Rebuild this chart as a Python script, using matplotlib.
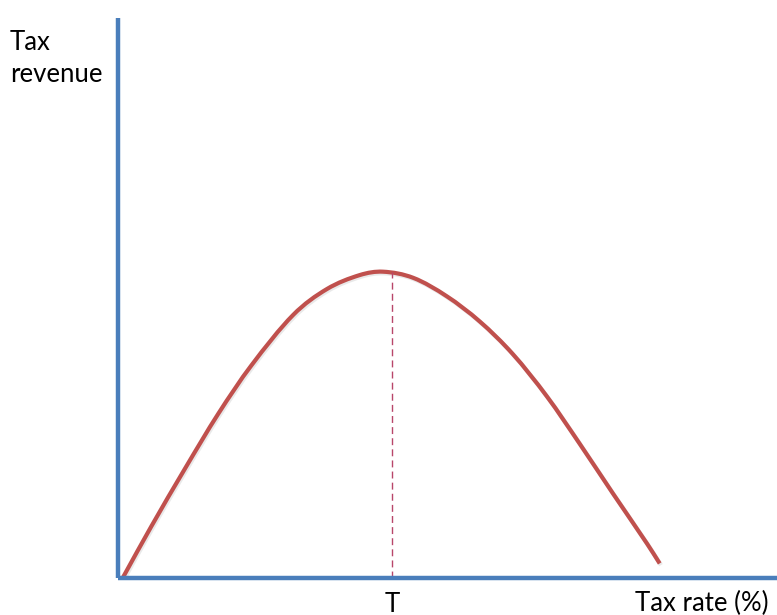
import matplotlib.pyplot as plt
from matplotlib.path import Path
from matplotlib.patches import PathPatch

# Laffer curve (x: tax rate, 0-100 axis scale; y: revenue, 0-100 axis scale)
tax_rate = [0.8, 5.0, 10.2, 15.2, 20.2, 26.6, 31.7, 36.7, 40.2, 44.8, 49.9,
            54.9, 59.9, 65.1, 70.1, 75.1, 80.3, 82.2]
revenue = [0.2, 9.1, 19.6, 29.3, 37.9, 47.0, 51.6, 54.1, 54.7, 53.6, 50.3,
           45.8, 40.0, 32.4, 23.9, 15.1, 6.1, 2.6]
t_rate = 41.6
t_revenue = 54.6


def smooth_path(xs, ys):
    # cubic Hermite in x through the read points, drawn as Bezier segments
    n = len(xs)
    slopes = []
    for i in range(n):
        a = max(i - 1, 0)
        b = min(i + 1, n - 1)
        slopes.append((ys[b] - ys[a]) / (xs[b] - xs[a]))
    verts = [(xs[0], ys[0])]
    codes = [Path.MOVETO]
    for i in range(n - 1):
        h = xs[i + 1] - xs[i]
        verts += [(xs[i] + h / 3, ys[i] + slopes[i] * h / 3),
                  (xs[i + 1] - h / 3, ys[i + 1] - slopes[i + 1] * h / 3),
                  (xs[i + 1], ys[i + 1])]
        codes += [Path.CURVE4] * 3
    return Path(verts, codes)


W, H = 777, 615
fig = plt.figure(figsize=(W / 100, H / 100), dpi=100)
ax = fig.add_axes([118 / W, (H - 578) / H, (W - 118) / W, (578 - 18) / H])
ax.set_xlim(0, 100)
ax.set_ylim(0, 100)

blue = '#4A7EBB'
red = '#C0504D'

for side in ['top', 'right']:
    ax.spines[side].set_visible(False)
for side in ['left', 'bottom']:
    ax.spines[side].set_color(blue)
    ax.spines[side].set_linewidth(3.2)
    ax.spines[side].set_capstyle('butt')
ax.set_xticks([])
ax.set_yticks([])

# faint shadow, then the curve
shadow = smooth_path([x + 0.2 for x in tax_rate], [y - 0.3 for y in revenue])
ax.add_patch(PathPatch(shadow, fill=False, edgecolor='#aaaaaa', lw=3.0, alpha=0.25,
                       capstyle='butt', joinstyle='round'))
ax.add_patch(PathPatch(smooth_path(tax_rate, revenue), fill=False, edgecolor=red, lw=3.0,
                       capstyle='butt', joinstyle='round'))
ax.vlines(t_rate, 0, t_revenue, color='#B8466A', lw=1.0, linestyles=(0, (5, 3)))

font = 'Lato'
fs = 18.5
fig.text(10 / W, 1 - 42 / H, 'Tax', fontsize=fs, family=font, va='center', ha='left')
fig.text(10 / W, 1 - 75 / H, 'revenue', fontsize=fs, family=font, va='center', ha='left')
fig.text(392 / W, 1 - 604 / H, 'T', fontsize=fs, family=font, va='center', ha='center')
fig.text(702 / W, 1 - 603 / H, 'Tax rate (%)', fontsize=fs, family=font, va='center', ha='center')

fig.savefig('out.png', dpi=100)
